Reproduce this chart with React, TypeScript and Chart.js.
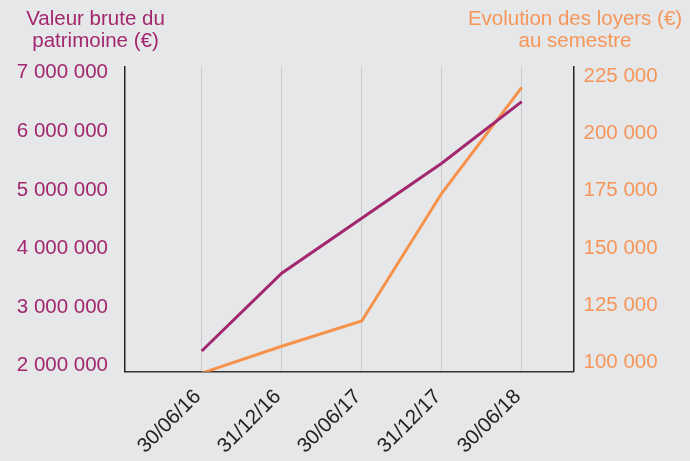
import React, { useEffect, useRef } from 'react';
import { Chart, registerables } from 'chart.js';

Chart.register(...registerables);

const categories = ['30/06/16', '31/12/16', '30/06/17', '31/12/17', '30/06/18'];
const patrimoineValues = [2253000, 3578000, 4515000, 5453000, 6504000];
const loyersValues = [95400, 107100, 118100, 173800, 220000];
const leftTicks = [2000000, 3000000, 4000000, 5000000, 6000000, 7000000];
const rightTicks = [100000, 125000, 150000, 175000, 200000, 225000];
const leftTitle = ['Valeur brute du', 'patrimoine (€)'];
const rightTitle = ['Evolution des loyers (€)', 'au semestre'];

const PURPLE = '#a2276f';
const ORANGE = '#f7924c';
const ORANGE_TEXT = '#f6965a';
const BG = '#e6e7e8';
const FONT = '"Liberation Sans", Arial, Helvetica, sans-serif';

const fmt = (v: number) => String(Math.round(v)).replace(/\B(?=(\d{3})+(?!\d))/g, ' ');

const titlesPlugin = {
  id: 'axisTitles',
  afterDraw(chart: any) {
    const ctx = chart.ctx;
    ctx.save();
    ctx.font = `20.5px ${FONT}`;
    ctx.textAlign = 'center';
    ctx.textBaseline = 'alphabetic';
    ctx.fillStyle = PURPLE;
    ctx.fillText(leftTitle[0], 95.5, 24.5);
    ctx.fillText(leftTitle[1], 95.5, 47);
    ctx.fillStyle = ORANGE_TEXT;
    ctx.fillText(rightTitle[0], 575, 24.5);
    ctx.fillText(rightTitle[1], 575, 47);
    ctx.restore();
  },
};

export default function App() {
  const ref = useRef<HTMLCanvasElement | null>(null);

  useEffect(() => {
    if (!ref.current) return;
    Chart.defaults.font.family = FONT;
    const chart = new Chart(ref.current, {
      type: 'line',
      data: {
        datasets: [
          {
            label: leftTitle.join(' '),
            data: categories.map((_, i) => ({ x: i, y: patrimoineValues[i] })),
            borderColor: PURPLE,
            backgroundColor: PURPLE,
            borderWidth: 3,
            pointRadius: 0,
            tension: 0,
            yAxisID: 'y',
          },
          {
            label: rightTitle.join(' '),
            data: categories.map((_, i) => ({ x: i, y: loyersValues[i] })),
            borderColor: ORANGE,
            backgroundColor: ORANGE,
            borderWidth: 3,
            pointRadius: 0,
            tension: 0,
            yAxisID: 'y1',
            clip: 0,
          },
        ],
      },
      options: {
        animation: false,
        responsive: true,
        maintainAspectRatio: false,
        layout: { padding: { top: 66.7, left: 0, right: 0, bottom: 0 } },
        plugins: {
          legend: { display: false },
          tooltip: { enabled: false },
          title: { display: false },
        },
        scales: {
          x: {
            type: 'linear',
            min: -0.959,
            max: 4.647,
            afterBuildTicks: (scale: any) => {
              scale.ticks = categories.map((_, i) => ({ value: i }));
            },
            afterFit: (scale: any) => {
              scale.height = 89.3;
            },
            ticks: {
              callback: (v: any) => categories[v] ?? '',
              minRotation: 45,
              maxRotation: 45,
              autoSkip: false,
              color: '#222222',
              font: { size: 20.5 },
              padding: 13,
              labelOffset: -4,
            },
            grid: { color: '#c9cacb', lineWidth: 1, drawTicks: false },
            border: { display: true, color: '#333333', width: 1.5 },
          },
          y: {
            type: 'linear',
            position: 'left',
            min: 1900000,
            max: 7100000,
            afterBuildTicks: (scale: any) => {
              scale.ticks = leftTicks.map((v) => ({ value: v }));
            },
            afterFit: (scale: any) => {
              scale.width = 125;
            },
            ticks: {
              callback: (v: any) => fmt(v),
              color: PURPLE,
              font: { size: 20.5 },
              padding: 17,
            },
            grid: { display: false, drawTicks: false },
            border: { display: true, color: '#222222', width: 1.5 },
          },
          y1: {
            type: 'linear',
            position: 'right',
            min: 96000,
            max: 229000,
            afterBuildTicks: (scale: any) => {
              scale.ticks = rightTicks.map((v) => ({ value: v }));
            },
            afterFit: (scale: any) => {
              scale.width = 116.5;
            },
            ticks: {
              callback: (v: any) => fmt(v),
              color: ORANGE_TEXT,
              font: { size: 20.5 },
              padding: 10,
            },
            grid: { display: false, drawTicks: false },
            border: { display: true, color: '#222222', width: 1.5 },
          },
        },
      },
      plugins: [titlesPlugin],
    } as any);
    return () => chart.destroy();
  }, []);

  return (
    <div
      style={{
        position: 'fixed',
        left: 0,
        top: 0,
        width: 690,
        height: 461,
        background: BG,
      }}
    >
      <canvas ref={ref} />
    </div>
  );
}
